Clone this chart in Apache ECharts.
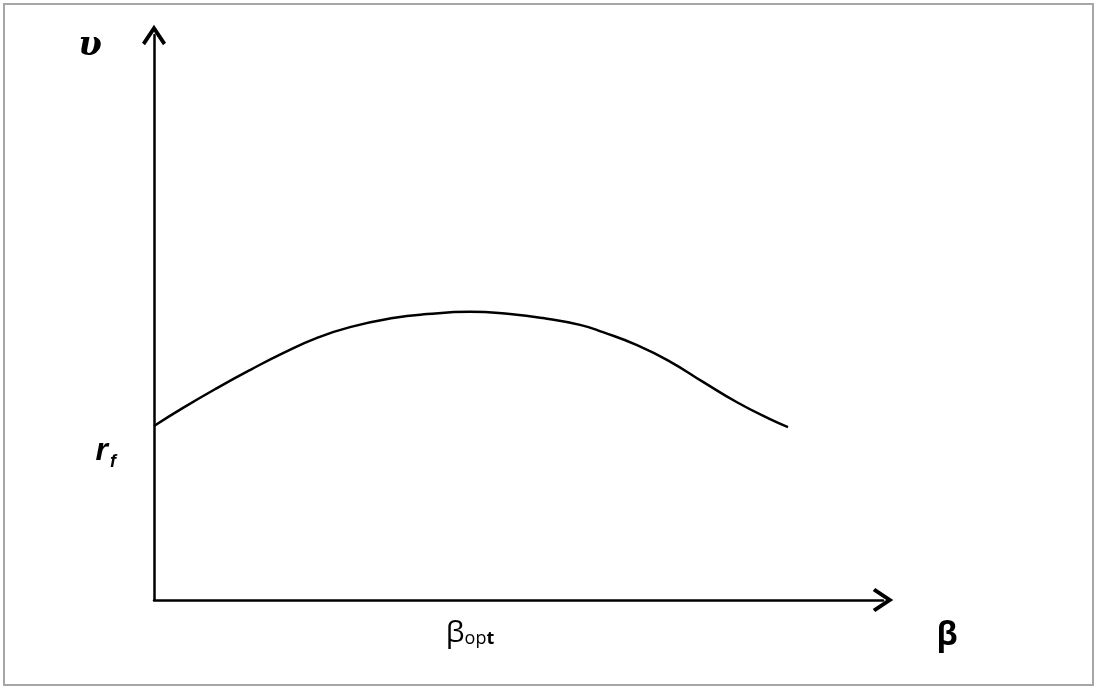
<!DOCTYPE html>
<html>
<head>
<meta charset="utf-8">
<script src="https://cdn.jsdelivr.net/npm/echarts@6/dist/echarts.min.js"></script>
<style>
  html, body { margin: 0; padding: 0; background: #fff; }
  #chart { width: 1097px; height: 688px; }
</style>
</head>
<body>
<div id="chart"></div>
<script>
(() => {
    // curve: beta (0..100) -> upsilon (0..100)
    const betaValues = [0, 3.98, 8.64, 13.17, 17.70, 22.36, 26.89, 32.78, 37.45, 43.35,
                        48.83, 53.36, 58.44, 61.59, 66.26, 70.78, 75.31, 79.97, 84.50, 86.97];
    const upsilonValues = [30.8, 34.0, 37.5, 40.7, 43.7, 46.4, 48.3, 49.9, 50.6, 51.0,
                           50.6, 49.9, 48.7, 47.4, 45.1, 42.2, 38.6, 35.0, 32.0, 30.6];
    const rfValue = 30.8;     // risk free rate, where the curve meets the y axis
    const betaOpt = 43.35;    // beta at the top of the curve

    const CHEVRON = 'path://M12 0 L24 18 L21 20.5 L12 7 L3 20.5 L0 18 Z';
    const FONT = "'Open Sans', 'DejaVu Sans', sans-serif";

    let points = betaValues.map((b, i) => [b, upsilonValues[i]]);

    let myChart = echarts.init(document.getElementById('chart'));
    let option = {
        backgroundColor: '#fff',
        animation: false,
        grid: {left: 154, right: 214, top: 35, bottom: 88, outerBoundsMode: 'none'},
        graphic: [
            {
                type: 'rect',
                shape: {x: 4, y: 4, width: 1089, height: 681},
                style: {fill: 'none', stroke: '#a6a6a6', lineWidth: 2}
            },
            {   // y axis name
                type: 'text', x: 90, y: 46,
                style: {
                    text: 'υ', fill: '#000', align: 'center', verticalAlign: 'middle',
                    font: "italic bold 34px 'DejaVu Serif', serif"
                }
            },
            {   // x axis name
                type: 'text', x: 947, y: 636,
                style: {
                    text: 'β', fill: '#000', align: 'center', verticalAlign: 'middle',
                    font: "bold 32px 'Open Sans', 'DejaVu Sans', sans-serif"
                }
            }
        ],
        xAxis: {
            type: 'value', min: 0, max: 100,
            splitLine: {show: false},
            axisTick: {show: false},
            axisLine: {
                onZero: false,
                lineStyle: {color: '#000', width: 2.5},
                symbol: ['none', CHEVRON],
                symbolSize: [24, 21]
            },
            axisLabel: {
                customValues: [betaOpt],
                margin: 18,
                formatter: () => '{b|β}{o|op}{t|t}',
                rich: {
                    b: {fontSize: 30, fontFamily: FONT, color: '#000', verticalAlign: 'bottom'},
                    o: {fontSize: 18, fontFamily: FONT, color: '#000', verticalAlign: 'bottom'},
                    t: {fontSize: 18, fontFamily: FONT, color: '#000', fontWeight: 'bold', verticalAlign: 'bottom'}
                }
            }
        },
        yAxis: {
            type: 'value', min: 0, max: 100,
            splitLine: {show: false},
            axisTick: {show: false},
            axisLine: {
                onZero: false,
                lineStyle: {color: '#000', width: 2.5},
                symbol: ['none', CHEVRON],
                symbolSize: [24, 21]
            },
            axisLabel: {
                customValues: [rfValue],
                margin: 38,
                padding: [50, 0, 0, 0],
                formatter: () => '{r|r}{f|f}',
                rich: {
                    r: {fontSize: 32, fontFamily: "'Liberation Sans', sans-serif", fontWeight: 'bold', fontStyle: 'italic', color: '#000', verticalAlign: 'bottom'},
                    f: {fontSize: 18, fontFamily: "'Liberation Sans', sans-serif", fontWeight: 'bold', fontStyle: 'italic', color: '#000', verticalAlign: 'bottom', padding: [0, 0, -4, 2]}
                }
            }
        },
        series: [{
            type: 'line',
            data: points,
            smooth: 0.5,
            showSymbol: false,
            silent: true,
            lineStyle: {color: '#000', width: 2.5}
        }]
    };
    myChart.setOption(option);
})();
</script>
</body>
</html>
